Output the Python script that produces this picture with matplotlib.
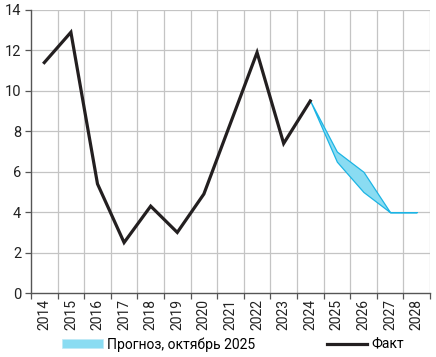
import matplotlib
matplotlib.use("Agg")
import matplotlib.pyplot as plt
import numpy as np
from matplotlib.patches import Patch
from matplotlib.lines import Line2D

plt.rcParams['font.family'] = ['Roboto', 'DejaVu Sans']

years = ['2014', '2015', '2016', '2017', '2018', '2019', '2020', '2021',
         '2022', '2023', '2024', '2025', '2026', '2027', '2028']
fact = [11.4, 12.9, 5.4, 2.5, 4.3, 3.0, 4.9, 8.4, 11.9, 7.4, 9.5]
fc_years = ['2024', '2025', '2026', '2027', '2028']
fc_low = [9.5, 6.5, 5.0, 4.0, 4.0]
fc_high = [9.5, 7.0, 6.0, 4.0, 4.0]

fig = plt.figure(figsize=(4.36, 3.57), dpi=100)
ax = fig.add_axes([0.0711, 0.179, 0.915, 0.793])

x = np.arange(len(years))
xf = np.array([years.index(y) for y in fc_years])

ax.set_xlim(-0.5, len(years) - 0.5)
ax.set_ylim(0, 14)
ax.set_yticks(np.arange(0, 15, 2))
ax.set_xticks(x)
ax.set_xticklabels(years, rotation=90)
ax.set_xticks(np.arange(-0.5, len(years), 1), minor=True)

ax.grid(False)
for b in np.arange(0.5, len(years), 1):
    ax.axvline(b, color='#c4c4c4', lw=0.9, zorder=0)
for yv in np.arange(2, 15, 2):
    ax.axhline(yv, color='#c4c4c4', lw=0.9, zorder=0)

ax.fill_between(xf, fc_low, fc_high, facecolor='#8adcf2', edgecolor='#1cb4e4',
                lw=0.9, zorder=2)
ax.plot(x[:len(fact)], fact, color='#231f20', lw=2.3, zorder=3,
        solid_joinstyle='miter')

for s in ['top', 'right']:
    ax.spines[s].set_visible(False)
for s in ['left', 'bottom']:
    ax.spines[s].set_color('#555555')
    ax.spines[s].set_linewidth(1.0)

ax.tick_params(axis='x', which='major', length=0, labelsize=10, pad=4, colors='#222222')
ax.tick_params(axis='x', which='minor', length=4, width=0.9, color='#555555', direction='out')
ax.tick_params(axis='y', length=4, width=0.9, color='#555555', labelsize=10.5,
               colors='#222222', pad=3)

handles = [Patch(facecolor='#8adcf2', edgecolor='#bfe9f6', lw=0.5),
           Line2D([0], [0], color='#231f20', lw=2.3)]
labels = ['Прогноз, октябрь 2025', 'Факт']
fig.legend(handles, labels, loc='center', bbox_to_anchor=(0.535, 0.035), ncol=2,
           frameon=False, fontsize=10, handlelength=2.9, handleheight=0.6,
           columnspacing=5.2, handletextpad=0.3)

fig.savefig('out.png', dpi=100)
